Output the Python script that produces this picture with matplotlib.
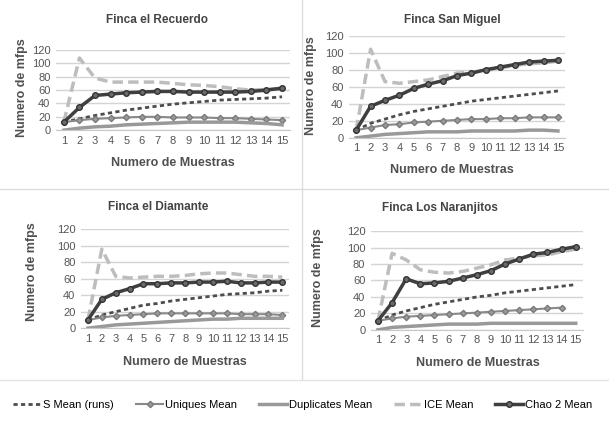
import numpy as np
import matplotlib
matplotlib.use("Agg")
import matplotlib.pyplot as plt
from matplotlib.lines import Line2D

plt.rcParams['font.family'] = ['Liberation Sans', 'DejaVu Sans']

muestras = list(range(1, 16))
series_names = ["S Mean (runs)", "Uniques Mean", "Duplicates Mean", "ICE Mean", "Chao 2 Mean"]

# values
recuerdo_s = [12, 17, 22, 26, 30, 33, 36, 39, 41, 43, 45, 46, 47, 48, 50]
recuerdo_uniq = [12, 15, 17, 18, 19, 20, 20, 19, 19, 19, 18, 18, 17, 16, 15]
recuerdo_dup = [0, 3, 5, 6, 8, 9, 10, 11, 12, 12, 12, 12, 11, 10, 8]
recuerdo_ice = [12, 108, 78, 72, 72, 72, 72, 70, 68, 67, 65, 62, 60, 61, 62]
recuerdo_chao = [12, 34, 52, 54, 56, 57, 58, 58, 57, 57, 57, 57, 58, 60, 63]

miguel_s = [9, 17, 22, 27, 31, 34, 37, 40, 43, 45, 47, 49, 51, 53, 55]
miguel_uniq = [9, 12, 15, 16, 18, 19, 20, 21, 22, 22, 23, 23, 24, 24, 24]
miguel_dup = [0, 2, 4, 5, 6, 7, 7, 7, 8, 8, 8, 8, 9, 9, 8]
miguel_ice = [9, 104, 66, 64, 66, 68, 72, 76, 77, 79, 82, 85, 87, 88, 90]
miguel_chao = [9, 37, 44, 50, 58, 63, 67, 73, 76, 80, 83, 86, 89, 90, 91]

diamante_s = [10, 16, 20, 24, 28, 30, 33, 35, 37, 39, 41, 42, 43, 45, 46]
diamante_uniq = [10, 13, 15, 16, 17, 18, 18, 18, 18, 18, 18, 17, 17, 17, 16]
diamante_dup = [0, 2, 4, 5, 6, 7, 8, 9, 10, 11, 11, 12, 12, 12, 12]
diamante_ice = [10, 96, 63, 61, 62, 63, 63, 64, 66, 67, 67, 65, 63, 63, 62]
diamante_chao = [10, 35, 43, 48, 54, 54, 55, 55, 56, 56, 57, 55, 55, 56, 56]

naranjitos_s = [11, 18, 23, 27, 31, 34, 37, 40, 42, 45, 47, 49, 51, 53, 55]
naranjitos_uniq = [11, 14, 16, 17, 18, 19, 20, 21, 22, 23, 24, 25, 26, 27, np.nan]
naranjitos_dup = [0, 3, 4, 5, 6, 7, 7, 7, 8, 8, 8, 8, 8, 8, 8]
naranjitos_ice = [11, 93, 85, 73, 70, 69, 71, 75, 79, 85, 87, 90, 91, 95, 98]
naranjitos_chao = [11, 33, 62, 56, 57, 59, 63, 67, 72, 80, 86, 92, 94, 98, 101]

styles = [
    dict(color="#4d4d4d", lw=2.0, ls=(0, (1.5, 1.2))),
    dict(color="#8a8a8a", lw=1.5, ls="-", marker="D", ms=3.2, mfc="#9a9a9a", mec="#7a7a7a"),
    dict(color="#999999", lw=2.5, ls="-"),
    dict(color="#bdbdbd", lw=2.5, ls=(0, (3, 1.5))),
    dict(color="#3f3f3f", lw=2.5, ls="-", marker="o", ms=4, mfc="#6a6a6a", mec="#333333"),
]

# panel positions (left, bottom, width, height) in figure fraction
panels = [
    ("Finca el Recuerdo", [recuerdo_s, recuerdo_uniq, recuerdo_dup, recuerdo_ice, recuerdo_chao],
     [0.092, 0.693, 0.384, 0.189], (157, 20), (173, 163), (22, 88)),
    ("Finca San Miguel", [miguel_s, miguel_uniq, miguel_dup, miguel_ice, miguel_chao],
     [0.573, 0.675, 0.355, 0.241], (452, 20), (452, 170), (311, 86)),
    ("Finca el Diamante", [diamante_s, diamante_uniq, diamante_dup, diamante_ice, diamante_chao],
     [0.133, 0.226, 0.342, 0.233], (158, 207), (185, 362), (32, 272)),
    ("Finca Los Naranjitos", [naranjitos_s, naranjitos_uniq, naranjitos_dup, naranjitos_ice, naranjitos_chao],
     [0.609, 0.222, 0.348, 0.233], (440, 208), (478, 363), (318, 278)),
]

W, H = 609, 424
fig = plt.figure(figsize=(W / 100, H / 100), dpi=100)

for title, data, pos, tpos, xlpos, ylpos in panels:
    ax = fig.add_axes(pos)
    for vals, st in zip(data, styles):
        ax.plot(muestras, vals, **st)
    ax.set_xlim(0.5, 15.5)
    ax.set_ylim(0, 120)
    ax.set_yticks(range(0, 121, 20))
    ax.set_xticks(muestras)
    ax.grid(axis="y", color="#d4d4d4", lw=1.0)
    ax.set_axisbelow(True)
    for s in ["top", "right", "left"]:
        ax.spines[s].set_visible(False)
    ax.spines["bottom"].set_color("#c8c8c8")
    ax.tick_params(length=0, labelsize=8, colors="#555555", pad=4)
    fig.text(tpos[0] / W, 1 - tpos[1] / H, title, ha="center", va="center",
             fontsize=8.5, fontweight="bold", color="#444444")
    fig.text(xlpos[0] / W, 1 - xlpos[1] / H, "Numero de Muestras", ha="center", va="center",
             fontsize=9, fontweight="bold", color="#505050")
    fig.text(ylpos[0] / W, 1 - ylpos[1] / H, "Numero de mfps", ha="center", va="center",
             rotation=90, fontsize=9, fontweight="bold", color="#505050")

# chart border remnants
fig.add_artist(Line2D([0, 1], [1 - 189 / H, 1 - 189 / H], color="#dcdcdc", lw=1))
fig.add_artist(Line2D([302 / W, 302 / W], [1 - 380 / H, 1], color="#dcdcdc", lw=1))
fig.add_artist(Line2D([0, 1], [1 - 380 / H, 1 - 380 / H], color="#e4e4e4", lw=1))

handles = [Line2D([], [], **st) for st in styles]
fig.legend(handles, series_names, loc="center", bbox_to_anchor=(0.497, 1 - 405 / H), ncol=5,
           frameon=False, fontsize=8, handlelength=2.5, handletextpad=0.15, columnspacing=2.0,
           borderaxespad=0, borderpad=0)

fig.savefig("out.png", dpi=100)
